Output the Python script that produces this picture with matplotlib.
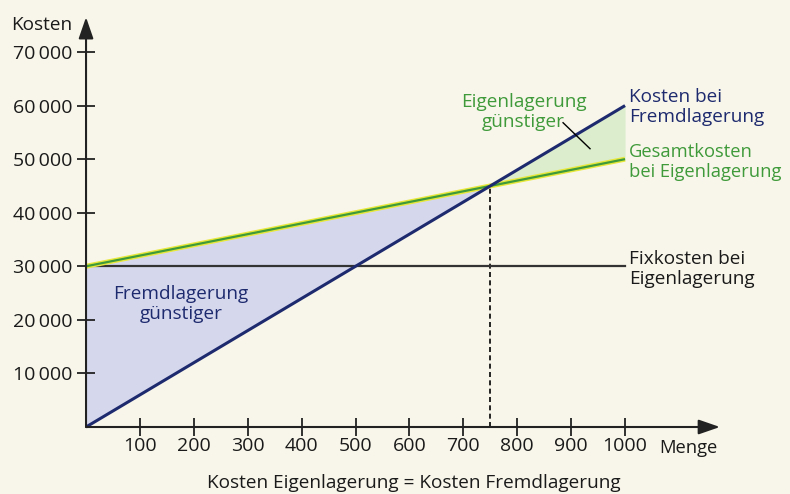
import numpy as np
import matplotlib
matplotlib.use("Agg")
import matplotlib.pyplot as plt

plt.rcParams["font.family"] = ["Open Sans", "DejaVu Sans"]

# data
menge = np.array([0, 750, 1000])
fix_kosten = 30000
var_eigen = 20          # variable Kosten je Einheit bei Eigenlagerung
preis_fremd = 60        # Kosten je Einheit bei Fremdlagerung
x_ticks = [100, 200, 300, 400, 500, 600, 700, 800, 900, 1000]
y_ticks = [10000, 20000, 30000, 40000, 50000, 60000, 70000]

fremd = preis_fremd * menge
gesamt = fix_kosten + var_eigen * menge
x_break = fix_kosten / (preis_fremd - var_eigen)
y_break = preis_fremd * x_break

BG = "#f8f6ea"
NAVY = "#1e2a6e"
GREEN = "#3f9a3a"
INK = "#1a1a1a"
FS = 13.7
LS = 1.12

fig = plt.figure(figsize=(7.9, 4.94), dpi=100, facecolor=BG)
ax = fig.add_axes([0, 0, 1, 1], facecolor=BG)
# pixel mapping: origin at (86, 427), 53.9 px per 100 units, 53.57 px per 10000
ax.set_xlim(-159.6, 1306)
ax.set_ylim(-12507, 79710)

# shaded regions
xa = np.linspace(0, x_break, 50)
ax.fill_between(xa, preis_fremd * xa, fix_kosten + var_eigen * xa,
                color="#d5d8ed", lw=0, zorder=1)
xb = np.linspace(x_break, 1000, 50)
ax.fill_between(xb, fix_kosten + var_eigen * xb, preis_fremd * xb,
                color="#dbedcc", lw=0, zorder=1)

# lines
ax.plot([0, 1000], [fix_kosten, fix_kosten], color="#333333", lw=1.6, zorder=3)
ax.plot(menge, gesamt, color="#e8e83a", lw=3.6, zorder=3, solid_capstyle="butt")
ax.plot(menge, gesamt, color=GREEN, lw=1.6, zorder=4, solid_capstyle="butt")
ax.plot(menge, fremd, color=NAVY, lw=2.2, zorder=5, solid_capstyle="butt")
ax.plot([x_break, x_break], [0, y_break], color="black", lw=1.2,
        ls=(0, (3, 2)), zorder=2)

# axes with arrows
for s in ax.spines.values():
    s.set_visible(False)
arrow = dict(arrowstyle="-|>,head_length=1.3,head_width=0.45",
             color="#222222", lw=1.5, shrinkA=0, shrinkB=0)
ax.annotate("", xy=(1176, 0), xytext=(0, 0), arrowprops=arrow, zorder=6)
ax.annotate("", xy=(0, 76500), xytext=(0, 0), arrowprops=arrow, zorder=6)

ax.set_xticks(x_ticks)
ax.set_yticks(y_ticks)
ax.set_xticklabels([str(v) for v in x_ticks])
ax.set_yticklabels([f"{v:,}".replace(",", "\u2009") for v in y_ticks])
ax.xaxis.set_ticks_position("bottom")
ax.yaxis.set_ticks_position("left")
ax.spines["left"].set_position(("data", 0))
ax.spines["bottom"].set_position(("data", 0))
ax.tick_params(axis="both", direction="inout", length=13, width=1.3,
               color="#222222", labelsize=14, labelcolor=INK)
ax.tick_params(axis="x", pad=1)
ax.tick_params(axis="y", pad=3)

# labels
ax.text(-26, 75000, "Kosten", ha="right", va="center", fontsize=FS, color=INK)
ax.text(1063, -3900, "Menge", ha="left", va="center", fontsize=13.2, color=INK)
ax.text(608, -10400, "Kosten Eigenlagerung = Kosten Fremdlagerung", ha="center",
        va="center", fontsize=FS, color=INK)

ax.text(1008, 59700, "Kosten bei\nFremdlagerung", ha="left", va="center",
        fontsize=FS, color=NAVY, linespacing=LS)
ax.text(1008, 49400, "Gesamtkosten\nbei Eigenlagerung", ha="left", va="center",
        fontsize=13.2, color=GREEN, linespacing=1.16)
ax.text(1008, 29500, "Fixkosten bei\nEigenlagerung", ha="left", va="center",
        fontsize=FS, color=INK, linespacing=LS)
ax.text(812, 58800, "Eigenlagerung\ngünstiger", ha="center", va="center",
        fontsize=FS, color=GREEN, linespacing=LS)
ax.text(176, 22900, "Fremdlagerung\ngünstiger", ha="center", va="center",
        fontsize=FS, color=NAVY, linespacing=LS)
ax.plot([885, 935], [56800, 51950], color="black", lw=1.0, zorder=6)

fig.savefig("out.png", dpi=100, facecolor=BG)
